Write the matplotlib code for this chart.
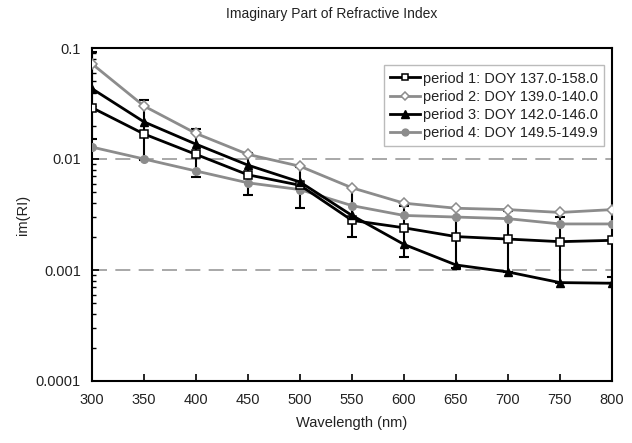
import matplotlib
matplotlib.use("Agg")
import matplotlib.pyplot as plt
from matplotlib.ticker import LogLocator, FixedLocator, NullFormatter
import numpy as np

plt.rcParams['font.family'] = ['Liberation Sans', 'DejaVu Sans']

wavelength = [300, 350, 400, 450, 500, 550, 600, 650, 700, 750, 800]
period1 = [0.029, 0.0168, 0.011, 0.0072, 0.0058, 0.0028, 0.0024, 0.0020, 0.0019, 0.0018, 0.00185]
period2 = [0.072, 0.030, 0.017, 0.011, 0.0086, 0.0055, 0.0040, 0.0036, 0.0035, 0.0033, 0.0035]
period3 = [0.043, 0.0216, 0.0136, 0.0088, 0.0062, 0.0031, 0.0017, 0.00111, 0.00096, 0.00077, 0.00076]
period4 = [0.0128, 0.0100, 0.0078, 0.0061, 0.0053, 0.0038, 0.0031, 0.0030, 0.0029, 0.0026, 0.0026]
err_upper = [0.092, 0.034, 0.0187, 0.0113, 0.0085, 0.0055, 0.0038, 0.0030, 0.0034, 0.0030, 0.00086]
err_lower = [0.015, 0.0098, 0.0069, 0.0047, 0.0036, 0.0020, 0.0013, 0.00105, 0.00096, 0.00077, 0.00076]
labels = ["period 1: DOY 137.0-158.0", "period 2: DOY 139.0-140.0",
          "period 3: DOY 142.0-146.0", "period 4: DOY 149.5-149.9"]
yticks = [0.0001, 0.001, 0.01, 0.1]
ytick_labels = ["0.0001", "0.001", "0.01", "0.1"]

fig = plt.figure(figsize=(6.32, 4.43), dpi=100)
ax = fig.add_axes([92/632, 1-381/443, 520/632, 333/443])

txt = '#222222'
gray = '#8c8c8c'

ax.set_yscale('log')
ax.set_xlim(300, 800)
ax.set_ylim(0.0001, 0.1)

for yv in [0.01, 0.001]:
    ax.axhline(yv, color='#9a9a9a', lw=1.2, dashes=(9, 5), zorder=1)

p3 = np.array(period3)
ax.errorbar(wavelength, period3,
            yerr=[p3 - np.array(err_lower), np.array(err_upper) - p3],
            fmt='none', ecolor='black', elinewidth=1.5, capsize=3.5, capthick=1.5, zorder=2)

ax.plot(wavelength, period1, color='black', lw=2, marker='s', ms=5.5,
        mfc='white', mec='black', mew=1.1, label=labels[0], zorder=4)
ax.plot(wavelength, period2, color=gray, lw=2, marker='D', ms=5,
        mfc='white', mec=gray, mew=1.1, label=labels[1], zorder=3)
ax.plot(wavelength, period3, color='black', lw=2, marker='^', ms=6,
        mfc='black', mec='black', label=labels[2], zorder=5)
ax.plot(wavelength, period4, color=gray, lw=2, marker='o', ms=5.5,
        mfc=gray, mec=gray, label=labels[3], zorder=3)

ax.set_xticks(wavelength)
ax.set_xticklabels([str(w) for w in wavelength])
ax.yaxis.set_major_locator(FixedLocator(yticks))
ax.set_yticklabels(ytick_labels)
ax.yaxis.set_minor_locator(LogLocator(base=10, subs=np.arange(2, 10)))
ax.yaxis.set_minor_formatter(NullFormatter())

ax.tick_params(axis='both', which='major', direction='in', length=5, width=1.2,
               labelsize=10.5, colors='black', labelcolor=txt, pad=8)
ax.tick_params(axis='y', which='minor', direction='in', length=3, width=1)
ax.tick_params(axis='x', pad=9)

for s in ax.spines.values():
    s.set_linewidth(1.5)
    s.set_color('black')

ax.set_xlabel("Wavelength (nm)", fontsize=10.5, color=txt, labelpad=6)
ax.set_ylabel("im(RI)", fontsize=10.5, color=txt, labelpad=4)
fig.text(332/632, 1-14/443, "Imaginary Part of Refractive Index", ha='center', va='center',
         fontsize=10, color=txt)

leg = ax.legend(loc='upper right', bbox_to_anchor=(0.985, 0.949), borderaxespad=0,
                fontsize=10.5, frameon=True, fancybox=False, handlelength=2.0,
                handletextpad=0.2, labelspacing=0.28, borderpad=0.45, labelcolor=txt,
                markerscale=0.9)
leg.get_frame().set_edgecolor('#aaaaaa')
leg.get_frame().set_linewidth(1)

fig.savefig("out.png", dpi=100)
